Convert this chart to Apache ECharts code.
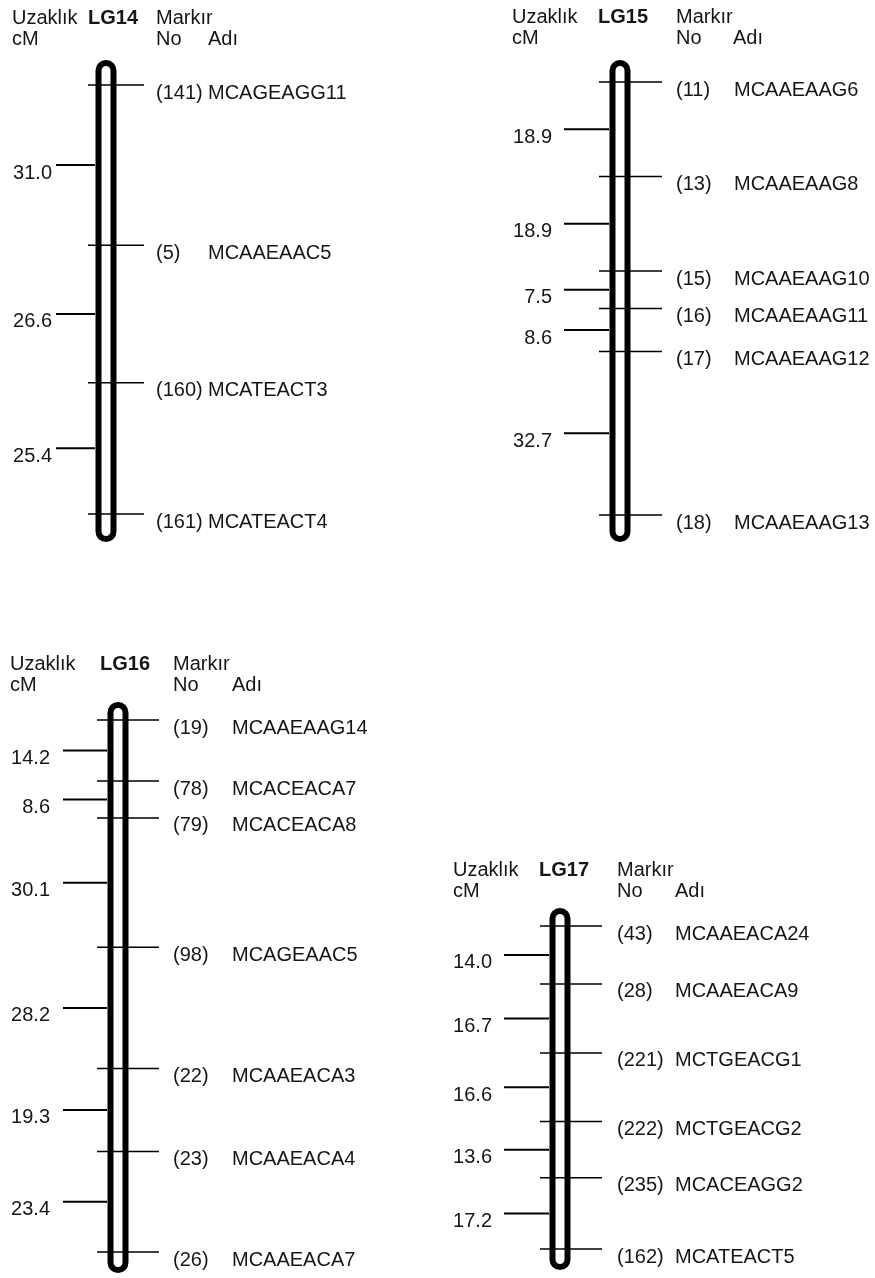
<!DOCTYPE html>
<html>
<head>
<meta charset="utf-8">
<script src="https://cdn.jsdelivr.net/npm/echarts@6/dist/echarts.min.js"></script>
<style>
  html, body { margin: 0; padding: 0; background: #fff; }
  #chart { width: 875px; height: 1278px; }
</style>
</head>
<body>
<div id="chart"></div>
<script>
// ---------- DATA ----------
const groupNames = ['LG14', 'LG15', 'LG16', 'LG17'];
const headerDistance = ['Uzaklık', 'cM'];
const headerMarker = ['Markır', 'No', 'Adı'];

const lg14Distances = [31.0, 26.6, 25.4];
const lg14MarkerNos = ['(141)', '(5)', '(160)', '(161)'];
const lg14MarkerNames = ['MCAGEAGG11', 'MCAAEAAC5', 'MCATEACT3', 'MCATEACT4'];

const lg15Distances = [18.9, 18.9, 7.5, 8.6, 32.7];
const lg15MarkerNos = ['(11)', '(13)', '(15)', '(16)', '(17)', '(18)'];
const lg15MarkerNames = ['MCAAEAAG6', 'MCAAEAAG8', 'MCAAEAAG10', 'MCAAEAAG11', 'MCAAEAAG12', 'MCAAEAAG13'];

const lg16Distances = [14.2, 8.6, 30.1, 28.2, 19.3, 23.4];
const lg16MarkerNos = ['(19)', '(78)', '(79)', '(98)', '(22)', '(23)', '(26)'];
const lg16MarkerNames = ['MCAAEAAG14', 'MCACEACA7', 'MCACEACA8', 'MCAGEAAC5', 'MCAAEACA3', 'MCAAEACA4', 'MCAAEACA7'];

const lg17Distances = [14.0, 16.7, 16.6, 13.6, 17.2];
const lg17MarkerNos = ['(43)', '(28)', '(221)', '(222)', '(235)', '(162)'];
const lg17MarkerNames = ['MCAAEACA24', 'MCAAEACA9', 'MCTGEACG1', 'MCTGEACG2', 'MCACEAGG2', 'MCATEACT5'];

// ---------- LAYOUT (pixels, not data) ----------
const layouts = [
  { left: 12,  top: 85,  height: 429, capTop: 25, capBot: 28, hdr: 67, lgX: 76, markirX: 144, adiX: 196, barX: 94,  mkL: 76, mkR: 132, dL: 44, dR: 83, labR: 40, noX: 144, nameX: 196 },
  { left: 512, top: 82,  height: 433, capTop: 22, capBot: 27, hdr: 65, lgX: 86, markirX: 164, adiX: 221, barX: 108, mkL: 87, mkR: 150, dL: 52, dR: 97, labR: 40, noX: 164, nameX: 222 },
  { left: 10,  top: 720, height: 532, capTop: 18, capBot: 21, hdr: 56, lgX: 90, markirX: 163, adiX: 222, barX: 108, mkL: 87, mkR: 149, dL: 53, dR: 97, labR: 40, noX: 163, nameX: 222 },
  { left: 453, top: 926, height: 323, capTop: 18, capBot: 21, hdr: 56, lgX: 86, markirX: 164, adiX: 222, barX: 107, mkL: 87, mkR: 149, dL: 51, dR: 96, labR: 39, noX: 164, nameX: 222 }
];

const groups = [
  { d: lg14Distances, nos: lg14MarkerNos, names: lg14MarkerNames },
  { d: lg15Distances, nos: lg15MarkerNos, names: lg15MarkerNames },
  { d: lg16Distances, nos: lg16MarkerNos, names: lg16MarkerNames },
  { d: lg17Distances, nos: lg17MarkerNos, names: lg17MarkerNames }
];

const FONT = '"Liberation Sans", Arial, sans-serif';
const TXT = '#161616';
const PW = 360;

function cumulative(d) {
  const out = [0];
  d.forEach(v => out.push(Math.round((out[out.length - 1] + v) * 10) / 10));
  return out;
}

const grid = [], xAxis = [], yAxis = [], series = [];

groups.forEach((g, i) => {
  const L = layouts[i];
  const pos = cumulative(g.d);
  const total = pos[pos.length - 1];
  grid.push({ left: L.left, top: L.top, width: PW, height: L.height });
  xAxis.push({ gridIndex: i, type: 'value', min: 0, max: PW, show: false });
  yAxis.push({ gridIndex: i, type: 'value', min: 0, max: total, inverse: true, show: false });

  // header
  series.push({
    type: 'custom', xAxisIndex: i, yAxisIndex: i, silent: true,
    data: [[0, 0]],
    renderItem: (p, api) => {
      const y0 = api.coord([0, 0])[1] - L.hdr;
      const y1 = y0 + 21;
      const t = (x, y, text, bold) => {
        const c = api.coord([x, 0]);
        return { type: 'text', style: { x: c[0], y: y, text: text, fill: TXT,
          font: (bold ? 'bold ' : '') + '20px ' + FONT, align: 'left', verticalAlign: 'middle' } };
      };
      return { type: 'group', children: [
        t(0, y0, headerDistance[0]), t(0, y1, headerDistance[1]),
        t(L.lgX, y0, groupNames[i], true),
        t(L.markirX, y0, headerMarker[0]), t(L.markirX, y1, headerMarker[1]), t(L.adiX, y1, headerMarker[2])
      ] };
    }
  });

  // chromosome bar
  series.push({
    type: 'custom', xAxisIndex: i, yAxisIndex: i, silent: true,
    data: [[0, total]],
    renderItem: (p, api) => {
      const a = api.coord([L.barX, 0]);
      const b = api.coord([L.barX, api.value(1)]);
      const y0 = a[1] - L.capTop + 3, y1 = b[1] + L.capBot - 3;
      return { type: 'rect', shape: { x: a[0] - 7.5, y: y0, width: 15, height: y1 - y0, r: 7.5 },
        style: { fill: '#fff', stroke: '#000', lineWidth: 6 } };
    }
  });

  // distance intervals
  series.push({
    type: 'custom', xAxisIndex: i, yAxisIndex: i, silent: true,
    data: g.d.map((v, k) => [(pos[k] + pos[k + 1]) / 2, v]),
    renderItem: (p, api) => {
      const y = api.coord([0, api.value(0)])[1];
      const xl = api.coord([L.dL, 0])[0], xr = api.coord([L.dR, 0])[0];
      const xt = api.coord([L.labR, 0])[0];
      return { type: 'group', children: [
        { type: 'line', shape: { x1: xl, y1: y, x2: xr, y2: y }, style: { stroke: '#000', lineWidth: 2 } },
        { type: 'text', style: { x: xt, y: y + 8, text: api.value(1).toFixed(1), fill: TXT,
          font: '20px ' + FONT, align: 'right', verticalAlign: 'middle' } }
      ] };
    }
  });

  // markers
  series.push({
    type: 'custom', xAxisIndex: i, yAxisIndex: i, silent: true,
    data: pos.map((v, k) => [v, k]),
    renderItem: (p, api) => {
      const y = api.coord([0, api.value(0)])[1];
      const k = api.value(1);
      const xl = api.coord([L.mkL, 0])[0], xr = api.coord([L.mkR, 0])[0];
      const xn = api.coord([L.noX, 0])[0], xm = api.coord([L.nameX, 0])[0];
      return { type: 'group', children: [
        { type: 'line', shape: { x1: xl, y1: y, x2: xr, y2: y }, style: { stroke: '#000', lineWidth: 1.5 } },
        { type: 'text', style: { x: xn, y: y + 8, text: g.nos[k], fill: TXT,
          font: '20px ' + FONT, align: 'left', verticalAlign: 'middle' } },
        { type: 'text', style: { x: xm, y: y + 8, text: g.names[k], fill: TXT,
          font: '20px ' + FONT, align: 'left', verticalAlign: 'middle' } }
      ] };
    }
  });
});

const chart = echarts.init(document.getElementById('chart'), null, { renderer: 'canvas' });
chart.setOption({
  animation: false,
  backgroundColor: '#fff',
  grid, xAxis, yAxis, series
});
</script>
</body>
</html>
